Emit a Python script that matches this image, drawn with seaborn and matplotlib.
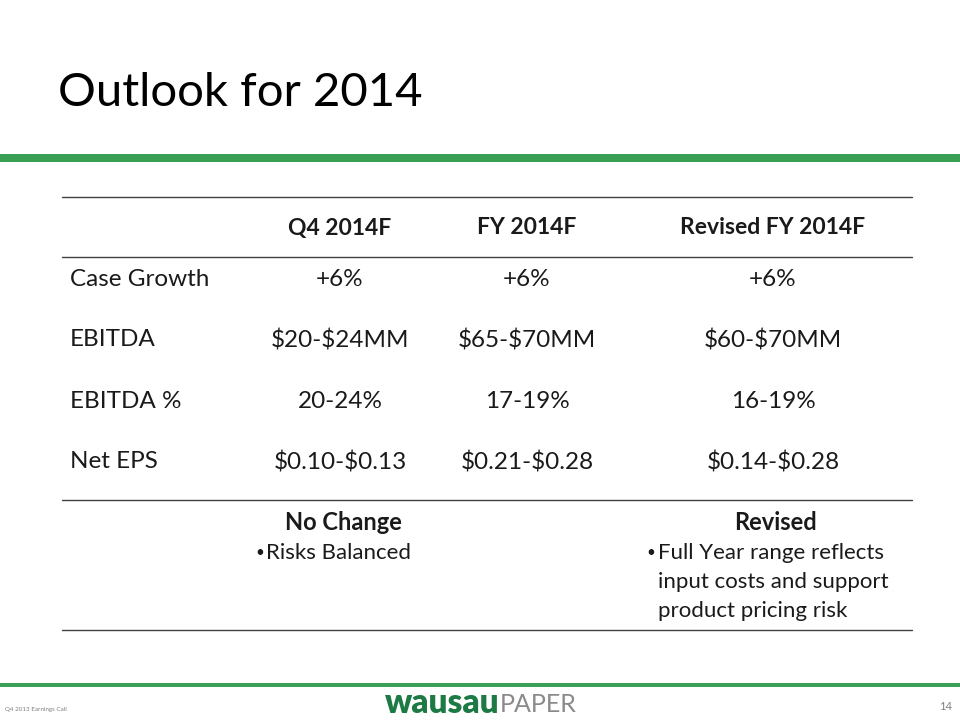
#Outlook table slide recreated with seaborn / matplotlib
import pandas as pd
import numpy as np
import matplotlib.pyplot as plt
import seaborn as sns

#table data
columns=['Q4 2014F','FY 2014F','Revised FY 2014F']
rows=['Case Growth','EBITDA','EBITDA %','Net EPS']
q4=['+6%','$20-$24MM','20-24%','$0.10-$0.13']
fy=['+6%','$65-$70MM','17-19%','$0.21-$0.28']
revised=['+6%','$60-$70MM','16-19%','$0.14-$0.28']
notes_head=['No Change','','Revised']
notes_q4=['Risks Balanced']
notes_rev=['Full Year range reflects','input costs and support','product pricing risk']

table=pd.DataFrame({columns[0]:q4,columns[1]:fy,columns[2]:revised},index=rows)

sns.set_style('white')
plt.rcParams['font.family']=['Lato','DejaVu Sans']
plt.rcParams['text.parse_math']=False

fig=plt.figure(figsize=(9.6,7.2),dpi=100)
ax=fig.add_axes([0,0,1,1])
ax.set_xlim(0,960)
ax.set_ylim(720,0)
ax.axis('off')

green='#3a9e55'
dark='#1a1a1a'

#title and header bar
ax.text(58,93,'Outlook for 2014',fontsize=34,color='black',va='center',ha='left')
ax.axhspan(154,162,color=green,lw=0)

#table lines
for y in [197,257,500,630]:
    ax.plot([62,912],[y,y],color='#404040',lw=1)

col_x=[340,527,773]
row_y=[280,340,401,462]

for cx,c in zip(col_x,table.columns):
    ax.text(cx,228,c,fontsize=16.5,fontweight='bold',ha='center',va='center',color=dark)

for ry,r in zip(row_y,table.index):
    ax.text(70,ry,r,fontsize=17.5,ha='left',va='center',color=dark)
    for cx,c in zip(col_x,table.columns):
        ax.text(cx,ry,table.loc[r,c],fontsize=17.5,ha='center',va='center',color=dark)

#notes under the table
for cx,h in zip(col_x,notes_head):
    if h:
        ax.text(cx+3,523,h,fontsize=17,fontweight='bold',ha='center',va='center',color=dark)

ax.text(255,553,'\u2022',fontsize=11,ha='left',va='center',color=dark)
ax.text(266,553,notes_q4[0],fontsize=16,ha='left',va='center',color=dark)

for i,line in enumerate(notes_rev):
    y=553+i*29
    if i==0:
        ax.text(646,y,'\u2022',fontsize=11,ha='left',va='center',color=dark)
    ax.text(658,y,line,fontsize=16,ha='left',va='center',color=dark)

#footer
ax.axhspan(683,687,color=green,lw=0)
ax.text(5,710,'Q4 2013 Earnings Call',fontsize=4.5,color='#808080',ha='left',va='center')
ax.text(385,703,'wausau',fontsize=24,fontweight='heavy',color='#1e7a45',ha='left',va='center')
ax.text(500,705,'PAPER',fontsize=18,color='#8a8a8a',ha='left',va='center')
ax.text(946,707,'14',fontsize=8,color='#7f7f7f',ha='center',va='center')

plt.savefig('out.png',dpi=100)
